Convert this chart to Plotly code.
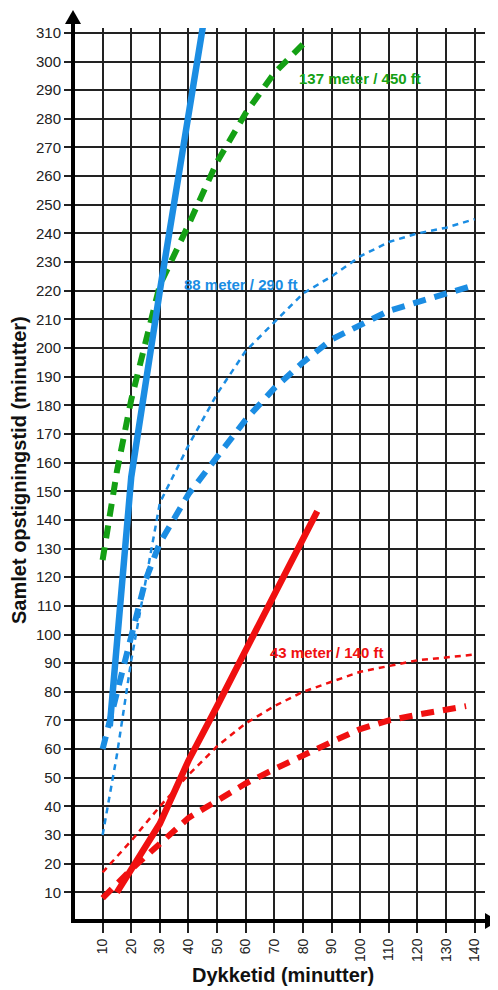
import plotly.graph_objects as go

# ---------------- data ----------------
x_green_dash = [10, 15, 20, 30, 40, 50, 60, 70, 80]
y_green_dash = [126, 157, 182, 222, 243, 265, 282, 296, 306]

x_blue_solid = [12.5, 20, 30, 45]
y_blue_solid = [68, 155, 220, 312]

x_blue_dash = [10, 15, 20, 25, 30, 40, 50, 60, 70, 80, 90, 100, 110, 120, 130, 140]
y_blue_dash = [60, 80, 98, 119, 132, 149, 162, 175, 186, 195, 203, 208, 213, 216, 219, 222]

x_blue_dot = [10, 15, 20, 25, 30, 40, 50, 60, 70, 80, 90, 100, 110, 120, 130, 140]
y_blue_dot = [30, 58, 91, 119, 146, 166, 184, 199, 209, 219, 225, 232, 237, 240, 242, 245]

x_red_solid = [15, 20, 25, 30, 35, 40, 50, 60, 70, 85]
y_red_solid = [10, 18, 26, 34, 45, 56, 75, 95, 114, 143]

x_red_dot = [10, 20, 30, 40, 50, 60, 70, 80, 90, 100, 110, 120, 130, 140]
y_red_dot = [17, 28, 40, 51, 61, 69, 75, 80, 83.5, 87, 89, 91, 92, 93]

x_red_dash = [10, 20, 30, 40, 50, 60, 70, 80, 90, 100, 110, 120, 130, 137]
y_red_dash = [8, 18, 27, 36, 42, 48, 53, 58, 62.5, 67, 70, 72, 73.5, 75]

x_ticks = list(range(10, 141, 10))
y_ticks = list(range(10, 311, 10))

labels = ["137 meter / 450 ft", "88 meter / 290 ft", "43 meter / 140 ft"]
label_x = [78, 37.7, 67.8]
label_y = [294, 222, 93.8]

x_title = "Dykketid (minutter)"
y_title = "Samlet opstigningstid (minutter)"

# ---------------- style ----------------
BLUE = "#1b8de3"
GREEN = "#14a014"
RED = "#f01010"
FONT = "Liberation Sans, Arial, sans-serif"

OFF = 8  # default page body margin
W, H = 498 - OFF, 990 - OFF
L, R, T, B = 72 - OFF, 13, 28 - OFF, 69
PW, PH = W - L - R, H - T - B


def px(xs):
    """screenshot x pixel -> paper coordinate"""
    return (xs - OFF - L) / PW


def py(ys):
    """screenshot y pixel -> paper coordinate"""
    return (H - B - (ys - OFF)) / PH


fig = go.Figure()


def add(x, y, color, width, dash):
    fig.add_trace(go.Scatter(x=x, y=y, mode="lines",
                             line=dict(color=color, width=width, dash=dash),
                             hoverinfo="skip", showlegend=False))


add(x_red_dot, y_red_dot, RED, 2.5, "6px,5px")
add(x_red_dash, y_red_dash, RED, 6, "13px,9px")
add(x_red_solid, y_red_solid, RED, 6.5, "solid")
add(x_blue_dot, y_blue_dot, BLUE, 2.5, "6px,5px")
add(x_blue_dash, y_blue_dash, BLUE, 6, "13px,9px")
add(x_green_dash, y_green_dash, GREEN, 6, "13px,9px")
add(x_blue_solid, y_blue_solid, BLUE, 6.5, "solid")

label_colors = [GREEN, BLUE, RED]
for t, lx, ly, c in zip(labels, label_x, label_y, label_colors):
    fig.add_annotation(x=lx, y=ly, text=f"<b>{t}</b>", showarrow=False,
                       xanchor="left", yanchor="middle",
                       font=dict(family=FONT, size=15, color=c))

# axis titles
fig.add_annotation(x=px(283), y=py(975), xref="paper", yref="paper",
                   text=f"<b>{x_title}</b>", showarrow=False,
                   xanchor="center", yanchor="middle",
                   font=dict(family=FONT, size=20, color="#111"))
fig.add_annotation(x=px(19), y=py(470), xref="paper", yref="paper",
                   text=f"<b>{y_title}</b>", showarrow=False, textangle=-90,
                   xanchor="center", yanchor="middle",
                   font=dict(family=FONT, size=20, color="#111"))

# axis lines with arrowheads
shapes = [
    dict(type="line", xref="paper", yref="paper", x0=px(72), x1=px(488),
         y0=py(921), y1=py(921), line=dict(color="black", width=4)),
    dict(type="line", xref="paper", yref="paper", x0=px(73), x1=px(73),
         y0=py(923), y1=py(22), line=dict(color="black", width=4)),
    dict(type="path", xref="paper", yref="paper",
         path=f"M {px(498)},{py(921)} L {px(485)},{py(913)} L {px(485)},{py(929)} Z",
         fillcolor="black", line=dict(color="black", width=0)),
    dict(type="path", xref="paper", yref="paper",
         path=f"M {px(73)},{py(10)} L {px(65)},{py(24)} L {px(81)},{py(24)} Z",
         fillcolor="black", line=dict(color="black", width=0)),
]

fig.update_layout(
    width=W, height=H,
    margin=dict(l=L, r=R, t=T, b=B),
    paper_bgcolor="white", plot_bgcolor="white",
    shapes=shapes,
    font=dict(family=FONT, color="#222"),
    xaxis=dict(range=[-0.7, 143.6], tickvals=x_ticks,
               ticktext=[str(v) for v in x_ticks], tickangle=-90,
               ticks="outside", ticklen=11, tickwidth=2, tickcolor="#222",
               showgrid=True, gridcolor="#222", gridwidth=2,
               zeroline=False, showline=False,
               tickfont=dict(family=FONT, size=14, color="#222")),
    yaxis=dict(range=[0, 311.7], tickvals=y_ticks,
               ticktext=[str(v) for v in y_ticks],
               ticks="outside", ticklen=7, tickwidth=2, tickcolor="#222",
               showgrid=True, gridcolor="#222", gridwidth=2,
               zeroline=False, showline=False,
               tickfont=dict(family=FONT, size=15, color="#222")),
)

fig.write_html("out.html")
